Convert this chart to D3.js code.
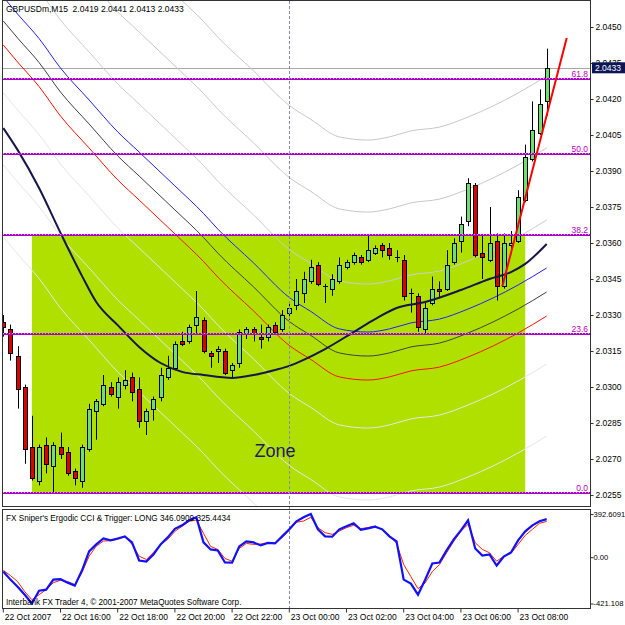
<!DOCTYPE html>
<html>
<head>
<meta charset="utf-8">
<script src="https://cdn.jsdelivr.net/npm/d3@7/dist/d3.min.js"></script>
<style>
body { margin: 0; background: #fff; }
text { font-family: "Liberation Sans", Arial, sans-serif; }
</style>
</head>
<body>
<div id="chart"></div>
<script>
// GBPUSDm M15, 22 Oct 14:00 .. 23 Oct 09:00, one entry per bar
var opens  = [2.0327,2.0324,2.0313,2.0300,2.0275,2.0261,2.0276,2.0267,2.0275,2.0273,
              2.0265,2.0261,2.0274,2.0290,2.0293,2.0300,2.0296,2.0301,2.0304,2.0299,
              2.0286,2.0291,2.0296,2.0304,2.0308,2.0319,2.0319,2.0326,2.0328,2.0314,
              2.0315,2.0315,2.0307,2.0310,2.0322,2.0324,2.0321,2.0321,2.0326,2.0324,
              2.0331,2.0334,2.0339,2.0344,2.0351,2.0342,2.0341,2.0344,2.0350,2.0352,
              2.0354,2.0353,2.0356,2.0359,2.0358,2.0354,2.0353,2.0339,2.0338,2.0324,
              2.0335,2.0341,2.0341,2.0352,2.0361,2.0369,2.0384,2.0356,2.0353,2.0361,
              2.0342,2.0359,2.0361,2.0378,2.0395,2.0406,2.0419];
var highs  = [2.0330,2.0326,2.0317,2.0301,2.0288,2.0276,2.0279,2.0277,2.0281,2.0275,
              2.0266,2.0276,2.0293,2.0295,2.0305,2.0302,2.0304,2.0307,2.0306,2.0304,
              2.0291,2.0296,2.0308,2.0313,2.0319,2.0323,2.0326,2.0340,2.0329,2.0315,
              2.0317,2.0316,2.0310,2.0324,2.0325,2.0325,2.0326,2.0326,2.0327,2.0332,
              2.0335,2.0345,2.0348,2.0353,2.0352,2.0343,2.0347,2.0354,2.0353,2.0356,
              2.0355,2.0363,2.0359,2.0360,2.0360,2.0357,2.0355,2.0341,2.0339,2.0335,
              2.0346,2.0344,2.0357,2.0362,2.0371,2.0387,2.0385,2.0363,2.0375,2.0364,
              2.0364,2.0365,2.0382,2.0401,2.0419,2.0424,2.0441];
var lows   = [2.0321,2.0311,2.0291,2.0268,2.0261,2.0259,2.0264,2.0256,2.0270,2.0263,
              2.0259,2.0258,2.0273,2.0278,2.0292,2.0296,2.0291,2.0299,2.0294,2.0283,
              2.0280,2.0286,2.0294,2.0303,2.0307,2.0317,2.0318,2.0322,2.0314,2.0308,
              2.0310,2.0305,2.0304,2.0308,2.0320,2.0319,2.0316,2.0319,2.0322,2.0323,
              2.0328,2.0332,2.0335,2.0343,2.0342,2.0335,2.0338,2.0343,2.0349,2.0351,
              2.0351,2.0352,2.0355,2.0354,2.0353,2.0352,2.0336,2.0331,2.0323,2.0322,
              2.0334,2.0337,2.0340,2.0351,2.0356,2.0367,2.0354,2.0345,2.0352,2.0336,
              2.0341,2.0357,2.0360,2.0377,2.0394,2.0405,2.0413];
var closes = [2.0325,2.0314,2.0299,2.0274,2.0262,2.0275,2.0268,2.0276,2.0272,2.0264,
              2.0262,2.0275,2.0291,2.0294,2.0301,2.0297,2.0302,2.0303,2.0298,2.0286,
              2.0290,2.0295,2.0305,2.0308,2.0318,2.0318,2.0325,2.0329,2.0315,2.0313,
              2.0316,2.0306,2.0309,2.0323,2.0324,2.0322,2.0320,2.0325,2.0323,2.0330,
              2.0333,2.0340,2.0345,2.0350,2.0343,2.0342,2.0345,2.0351,2.0352,2.0355,
              2.0352,2.0357,2.0358,2.0357,2.0355,2.0354,2.0338,2.0339,2.0325,2.0333,
              2.0341,2.0340,2.0351,2.0360,2.0368,2.0385,2.0355,2.0354,2.0360,2.0342,
              2.0360,2.0360,2.0379,2.0396,2.0407,2.0418,2.0433];

// thick moving average, sampled bars
var maBars   = [0,2,5,8,11,13,16,19,22,25,28,32,35,38,40,42,45,49,52,55,59,64,68,71,73,76];
var maValues = [2.04079,2.03988,2.03829,2.03642,2.03463,2.03354,2.03258,2.03167,2.03100,2.03063,
                2.03050,2.03038,2.03050,2.03071,2.03088,2.03113,2.03158,2.03229,2.03283,2.03329,
                2.03354,2.03404,2.03450,2.03479,2.03513,2.03596];

// envelope centre line, sampled bars, and the band offsets
var envBars   = [0,2,5,8,12,16,19,24,28,30,35,40,43,47,51,54,57,61,65,72,76];
var envValues = [2.04525,2.04454,2.04352,2.04229,2.04096,2.03963,2.03879,2.03738,2.03623,2.03558,
                 2.03417,2.03273,2.03215,2.03142,2.03129,2.03142,2.03167,2.03183,2.03225,2.03325,2.03396];
var envOffsets = [0.0090, 0.0060, 0.0030, 0.0010, 0, -0.0010, -0.0030, -0.0060, -0.0090];

// fibonacci retracement
var fibLevels = ["0.0", "23.6", "38.2", "50.0", "61.8"];
var fibPrices = [2.0256, 2.0322, 2.03632, 2.0397, 2.04283];

// zone rectangle and trend line
var zoneBars = [4, 73];
var zonePrices = [2.03632, 2.0256];
var trendBars = [69.8, 78.8];
var trendPrices = [2.0342, 2.04454];
var bidPrice = 2.0433;
var separatorBar = 40;

// ergodic cci + trigger
var ergodic = [-130.7,-203.9,-267.9,-341.0,-421.1,-304.4,-295.3,-203.9,-200.0,-231.3,
               -258.7,-121.6,52.1,116.1,171.0,152.7,170.0,189.2,134.4,-30.2,
               -39.3,24.7,116.1,180.1,257.8,289.8,335.5,362.9,134.4,70.4,
               61.3,-48.5,-50.0,97.8,143.5,134.4,107.0,130.0,125.2,189.2,
               253.2,326.4,362.9,392.6,253.2,189.2,186.0,253.2,280.7,308.1,
               248.6,262.4,278.0,253.2,189.2,143.5,-203.9,-240.4,-341.0,-205.0,
               -57.6,-48.5,61.3,161.8,244.1,335.5,79.5,15.5,24.7,-75.9,
               6.4,43.0,152.7,235.0,289.8,326.4,346.09];
var trigger = [-118.9,-167.3,-222.2,-313.6,-386.7,-341.0,-295.3,-231.3,-210.3,-222.2,
               -249.6,-139.9,9.1,100.6,146.3,150.0,161.8,186.5,116.1,9.1,
               -21.0,43.0,116.1,161.8,235.0,280.7,326.4,338.3,216.7,97.8,
               70.4,-11.9,-36.6,79.5,125.3,116.1,120.0,131.7,128.0,180.0,
               245.0,317.2,329.1,362.9,268.8,223.1,207.5,237.7,268.8,289.8,
               259.6,268.8,283.4,246.8,198.4,125.3,-66.7,-176.4,-286.2,-234.0,
               -130.7,-66.7,40.2,143.5,235.0,299.0,131.7,70.4,40.2,-36.6,
               9.1,33.8,116.1,198.4,253.2,308.1,325.44];
var indTicks = [392.6091, 0, -421.108];
var indTickLabels = ["392.6091", "0.00", "-421.108"];

var priceTicks = [2.0450,2.0435,2.0420,2.0405,2.0390,2.0375,2.0360,2.0345,2.0330,2.0315,2.0300,2.0285,2.0270,2.0255];
var timeTickBars = [0,8,16,24,32,40,48,56,64,72];
var timeLabels = ["22 Oct 2007","22 Oct 16:00","22 Oct 18:00","22 Oct 20:00","22 Oct 22:00",
                  "23 Oct 00:00","23 Oct 02:00","23 Oct 04:00","23 Oct 06:00","23 Oct 08:00"];

const width = 625, height = 625;
const left = 3, right = 590, mainTop = 1, mainBottom = 506, indTop = 509, indBottom = 608;

const xScale = d3.scaleLinear().domain([0, 76]).range([3.3, 546.7]);
const yScale = d3.scaleLinear().domain([2.0255, 2.0450]).range([495, 27]);
const iScale = d3.scaleLinear().domain([-421.108, 392.6091]).range([603.5, 514]);

let svg = d3.select('#chart').append('svg')
    .attr('width', width).attr('height', height);

svg.append('rect').attr('width', width).attr('height', height).attr('fill', '#fff');

let defs = svg.append('defs');
defs.append('clipPath').attr('id', 'clipMain').append('rect')
    .attr('x', left).attr('y', mainTop).attr('width', right - left).attr('height', mainBottom - mainTop);
defs.append('clipPath').attr('id', 'clipInd').append('rect')
    .attr('x', left).attr('y', indTop).attr('width', right - left).attr('height', indBottom - indTop);

let g = svg.append('g').attr('clip-path', 'url(#clipMain)');

// zone
g.append('rect')
    .attr('x', xScale(zoneBars[0]))
    .attr('y', yScale(zonePrices[0]))
    .attr('width', xScale(zoneBars[1]) - xScale(zoneBars[0]))
    .attr('height', yScale(zonePrices[1]) - yScale(zonePrices[0]))
    .attr('fill', '#b0e000');

// bid line
g.append('line')
    .attr('x1', left).attr('x2', right)
    .attr('y1', Math.round(yScale(bidPrice)) + 0.5).attr('y2', Math.round(yScale(bidPrice)) + 0.5)
    .attr('stroke', '#a8a8a8').attr('stroke-width', 1);

// period separator
svg.append('line')
    .attr('x1', Math.round(xScale(separatorBar)) + 0.5).attr('x2', Math.round(xScale(separatorBar)) + 0.5)
    .attr('y1', mainTop).attr('y2', indBottom)
    .attr('stroke', '#8888aa').attr('stroke-width', 1)
    .attr('stroke-dasharray', '3,2');

// envelopes
const envColours = ['#c8c8c8', '#c8c8c8', '#cdcdcd', '#2020ff', '#404040', '#ff1000', '#e6e6e6', '#e6e6e6', '#e6e6e6'];
const smooth = d3.line()
    .x((d) => xScale(d[0]))
    .y((d) => yScale(d[1]))
    .curve(d3.curveMonotoneX);

envOffsets.forEach(function(off, k) {
    let pts = envBars.map((b, i) => [b, envValues[i] + off]);
    g.append('path')
        .datum(pts)
        .attr('fill', 'none')
        .attr('stroke', envColours[k])
        .attr('stroke-width', 1)
        .attr('d', smooth);
});

// candles
let candles = g.append('g');
for (let i = 0; i < opens.length; i++) {
    let cx = Math.round(xScale(i));
    let up = closes[i] >= opens[i];
    candles.append('line')
        .attr('x1', cx + 0.5).attr('x2', cx + 0.5)
        .attr('y1', yScale(highs[i])).attr('y2', yScale(lows[i]))
        .attr('stroke', '#000').attr('stroke-width', 1);
    let top = Math.round(yScale(Math.max(opens[i], closes[i])));
    let bot = Math.round(yScale(Math.min(opens[i], closes[i])));
    if (bot - top < 1) {
        candles.append('line')
            .attr('x1', cx - 2).attr('x2', cx + 3)
            .attr('y1', top + 0.5).attr('y2', top + 0.5)
            .attr('stroke', '#000');
    } else {
        candles.append('rect')
            .attr('x', cx - 1.5).attr('y', top + 0.5)
            .attr('width', 4).attr('height', bot - top)
            .attr('fill', up ? '#6ee06e' : '#dd0000')
            .attr('stroke', '#000').attr('stroke-width', 1);
    }
}

// thick moving average
g.append('path')
    .datum(maBars.map((b, i) => [b, maValues[i]]))
    .attr('fill', 'none')
    .attr('stroke', '#16164a')
    .attr('stroke-width', 2)
    .attr('d', smooth);

// fibo levels
fibPrices.forEach(function(p, k) {
    let y = Math.round(yScale(p));
    g.append('line')
        .attr('x1', left).attr('x2', right).attr('y1', y).attr('y2', y)
        .attr('stroke', '#a800c8').attr('stroke-width', 2);
    g.append('line')
        .attr('x1', left).attr('x2', right).attr('y1', y - 0.5).attr('y2', y - 0.5)
        .attr('stroke', '#e0a0f0').attr('stroke-width', 1).attr('stroke-dasharray', '1,2');
    svg.append('text')
        .attr('x', 588).attr('y', y - 2)
        .attr('text-anchor', 'end')
        .style('font-size', '8.5px')
        .style('fill', '#c000c0')
        .text(fibLevels[k]);
});

// trend line
g.append('line')
    .attr('x1', xScale(trendBars[0])).attr('y1', yScale(trendPrices[0]))
    .attr('x2', xScale(trendBars[1])).attr('y2', yScale(trendPrices[1]))
    .attr('stroke', '#ff0000').attr('stroke-width', 2);

// zone label
svg.append('text')
    .attr('x', xScale(38)).attr('y', yScale(2.02708))
    .attr('text-anchor', 'middle')
    .style('font-size', '18px')
    .style('fill', '#1c1c66')
    .text('Zone');

// title
svg.append('text')
    .attr('x', 6).attr('y', 12)
    .attr('xml:space', 'preserve')
    .style('font-size', '8.5px')
    .style('white-space', 'pre')
    .text('GBPUSDm,M15  ' + [opens[76], highs[76], lows[76], closes[76]].map(d3.format('.4f')).join(' '));

// indicator panel
let gi = svg.append('g').attr('clip-path', 'url(#clipInd)');
const indLine = d3.line()
    .x((d, i) => xScale(i))
    .y((d) => iScale(d));

gi.append('path').datum(trigger)
    .attr('fill', 'none').attr('stroke', '#ff2000').attr('stroke-width', 1)
    .attr('d', indLine);
gi.append('path').datum(ergodic)
    .attr('fill', 'none').attr('stroke', '#1010ff').attr('stroke-width', 2.2)
    .attr('d', indLine);

svg.append('text')
    .attr('x', 6).attr('y', 521)
    .style('font-size', '8.2px')
    .text("FX Sniper's Ergodic CCI & Trigger: LONG " + d3.format('.4f')(346.0909) + ' ' + d3.format('.4f')(325.4434));
svg.append('text')
    .attr('x', 6).attr('y', 605)
    .style('font-size', '8.2px')
    .text('Interbank FX Trader 4, \u00a9 2001-2007 MetaQuotes Software Corp.');

// frames
let frame = svg.append('g').attr('fill', 'none').attr('stroke', '#333').attr('stroke-width', 1);
frame.append('rect').attr('x', left - 0.5).attr('y', mainTop - 0.5)
    .attr('width', right - left + 1).attr('height', mainBottom - mainTop + 1);
frame.append('rect').attr('x', left - 0.5).attr('y', indTop + 0.5)
    .attr('width', right - left + 1).attr('height', indBottom - indTop);

// price axis
let yAxis = svg.append('g')
    .attr('transform', `translate(${right + 0.5}, 0)`)
    .call(d3.axisRight(yScale).tickValues(priceTicks).tickFormat(d3.format('.4f')).tickSize(3).tickPadding(2));
yAxis.select('.domain').remove();
yAxis.selectAll('text').style('font-size', '8.5px').style('font-family', '"Liberation Sans", Arial, sans-serif');
yAxis.selectAll('line').attr('stroke', '#333');

// bid label
let by = yScale(bidPrice);
svg.append('rect')
    .attr('x', 592).attr('y', by - 5.5).attr('width', 33).attr('height', 11)
    .attr('fill', '#0c1656');
svg.append('text')
    .attr('x', 595).attr('y', by + 3)
    .style('font-size', '8.5px').style('fill', '#fff')
    .text(d3.format('.4f')(bidPrice));

// indicator axis
let iAxis = svg.append('g')
    .attr('transform', `translate(${right + 0.5}, 0)`)
    .call(d3.axisRight(iScale).tickValues(indTicks).tickFormat((d, i) => indTickLabels[i]).tickSize(3).tickPadding(0));
iAxis.select('.domain').remove();
iAxis.selectAll('text').style('font-size', '7.6px').style('font-family', '"Liberation Sans", Arial, sans-serif');
iAxis.selectAll('line').attr('stroke', '#333');

// time axis
let xAxis = svg.append('g')
    .attr('transform', `translate(0, ${indBottom + 0.5})`)
    .call(d3.axisBottom(xScale).tickValues(timeTickBars).tickFormat((d, i) => timeLabels[i]).tickSize(4));
xAxis.select('.domain').remove();
xAxis.selectAll('line').attr('stroke', '#333').attr('transform', 'translate(-0.5,0)');
xAxis.selectAll('text')
    .attr('text-anchor', 'start')
    .attr('x', 1).attr('y', 5).attr('dy', '0.71em')
    .style('font-size', '8.5px')
    .style('font-family', '"Liberation Sans", Arial, sans-serif');
</script>
</body>
</html>
